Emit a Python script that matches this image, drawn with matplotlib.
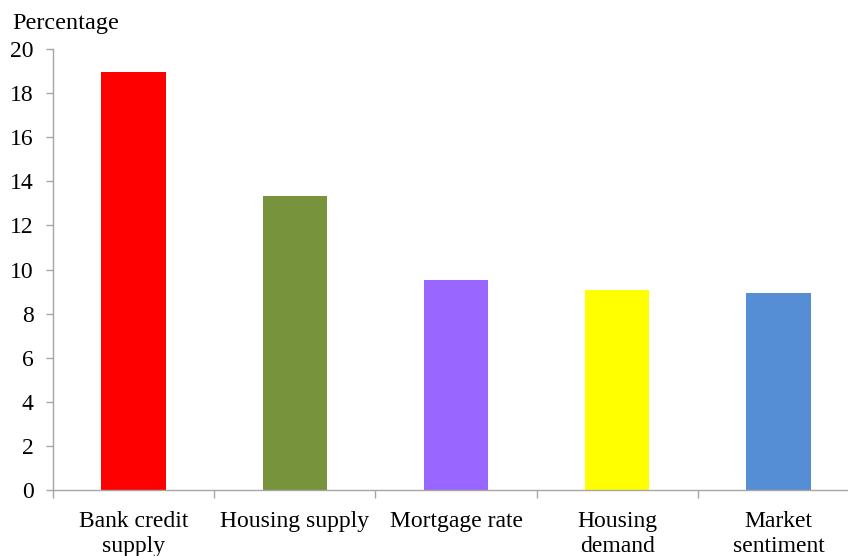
import matplotlib.pyplot as plt
import numpy as np

categories = ["Bank credit\nsupply", "Housing supply", "Mortgage rate", "Housing\ndemand", "Market\nsentiment"]
values = [18.95, 13.33, 9.52, 9.07, 8.93]
bar_colors = ["#FF0000", "#77933C", "#9966FF", "#FFFF00", "#558ED5"]
y_ticks = [0, 2, 4, 6, 8, 10, 12, 14, 16, 18, 20]

plt.rcParams['font.family'] = ['Liberation Serif', 'DejaVu Serif']

fig = plt.figure(figsize=(8.48, 5.56), dpi=100)
ax = fig.add_axes([53 / 848, 66 / 556, 806 / 848, 441 / 556])

x = np.arange(len(categories))
ax.bar(x, values, width=0.40, color=bar_colors)

ax.set_xlim(-0.5, len(categories) - 0.5)
ax.set_ylim(0, 20)
ax.set_yticks(y_ticks)

# category labels at bar centres, tick marks at the boundaries
ax.set_xticks(x)
ax.set_xticklabels(categories, fontsize=17, linespacing=1.25)
ax.tick_params(axis='x', which='major', length=0, pad=15)
ax.set_xticks(np.arange(-0.5, len(categories), 1.0), minor=True)
ax.tick_params(axis='x', which='minor', length=6, width=1, color='#a6a6a6', direction='out')

ax.tick_params(axis='y', labelsize=17, length=5, width=1, color='#a6a6a6', direction='out', pad=9)

for side in ['top', 'right']:
    ax.spines[side].set_visible(False)
for side in ['left', 'bottom']:
    ax.spines[side].set_color('#a6a6a6')
    ax.spines[side].set_linewidth(1)

fig.text(12 / 848, 1 - 29 / 556, "Percentage", fontsize=17.5, ha='left', va='baseline')

fig.savefig("out.png", dpi=100)
